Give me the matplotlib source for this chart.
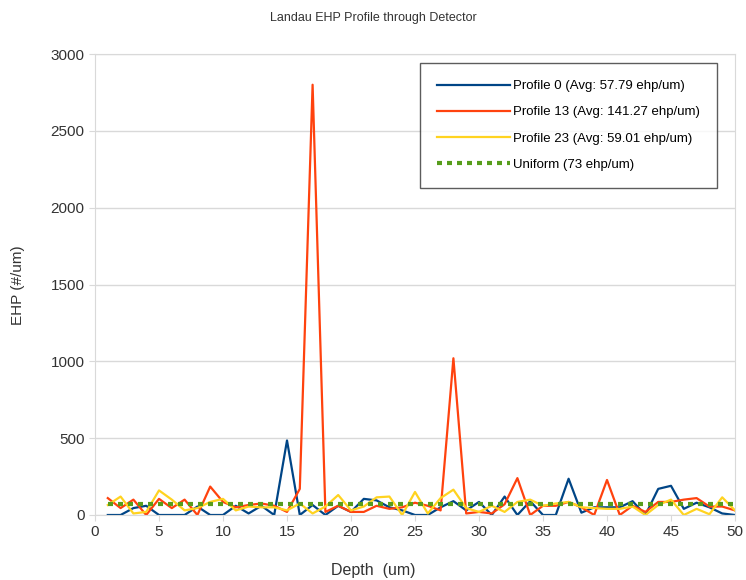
import matplotlib.pyplot as plt
import numpy as np

depth = list(range(1, 51))
profile_0 = [0, 0, 45, 60, 0, 0, 0, 55, 0, 0,
             60, 10, 60, 0, 485, 0, 65, 0, 60, 20,
             105, 95, 50, 30, 0, 0, 50, 90, 30, 85,
             0, 120, 0, 90, 0, 0, 236, 15, 50, 50,
             50, 90, 0, 170, 190, 40, 80, 50, 10, 0]
profile_13 = [110, 45, 100, 0, 105, 45, 100, 0, 185, 85,
              50, 65, 75, 60, 20, 170, 2800, 20, 60, 20,
              20, 60, 40, 50, 80, 60, 30, 1020, 10, 20,
              10, 70, 240, 0, 60, 60, 85, 50, 0, 228,
              0, 60, 20, 85, 85, 100, 110, 55, 55, 30]
profile_23 = [65, 120, 10, 20, 160, 100, 30, 45, 85, 105,
              30, 55, 50, 50, 30, 75, 10, 55, 130, 30,
              55, 115, 120, 0, 150, 10, 110, 165, 45, 20,
              60, 20, 85, 100, 60, 75, 85, 50, 45, 40,
              40, 55, 0, 65, 100, 0, 40, 5, 115, 30]
uniform = [73] * 50

labels = ['Profile 0 (Avg: 57.79 ehp/um)', 'Profile 13 (Avg: 141.27 ehp/um)',
          'Profile 23 (Avg: 59.01 ehp/um)', 'Uniform (73 ehp/um)']

plt.rcParams['font.family'] = ['Liberation Sans', 'DejaVu Sans']
fig = plt.figure(figsize=(7.46, 5.8), dpi=100)
ax = fig.add_axes([95/746, 1-515/580, 640/746, 461/580])

ax.plot(depth, profile_0, color='#004586', lw=1.6, label=labels[0])
ax.plot(depth, profile_13, color='#ff420e', lw=1.6, label=labels[1])
ax.plot(depth, profile_23, color='#ffd320', lw=1.6, label=labels[2])
ax.plot(depth, uniform, color='#579d1c', lw=3, ls=(0, (1.2, 1.2)), label=labels[3])

ax.set_xlim(0, 50)
ax.set_ylim(0, 3000)
ax.set_xticks(range(0, 51, 5))
ax.set_yticks(range(0, 3001, 500))
ax.yaxis.grid(True, color='#d9d9d9', lw=1)
ax.set_axisbelow(True)
for s in ax.spines.values():
    s.set_color('#d9d9d9')
ax.tick_params(colors='#333333', labelsize=11, length=4, color='#d9d9d9')

fig.text(0.5, 1-18/580, 'Landau EHP Profile through Detector', fontsize=9,
         color='#333333', ha='center', va='center')
fig.text(0.5, 1-570/580, 'Depth  (um)', fontsize=11.5,
         color='#333333', ha='center', va='center')
fig.text(18/746, 1-285/580, 'EHP (#/um)', fontsize=11, rotation=90,
         color='#333333', ha='center', va='center')

leg = ax.legend(loc='upper right', bbox_to_anchor=(0.972, 0.9805), fontsize=9.5,
                frameon=True, fancybox=False, handlelength=5.5, labelspacing=1.05,
                borderpad=1.3, handletextpad=0.25, borderaxespad=0)
leg.get_frame().set_edgecolor('#333333')
leg.get_frame().set_linewidth(1)

fig.savefig('out.png', dpi=100)
